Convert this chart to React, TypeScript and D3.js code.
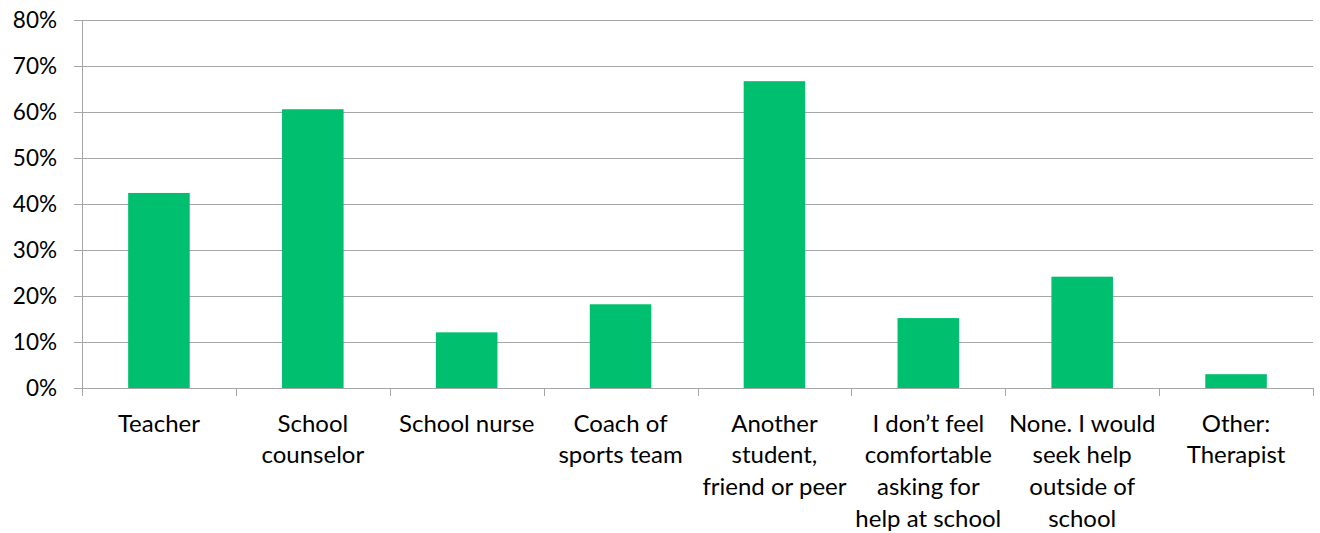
import React from "react";
import * as d3 from "d3";

const categories: string[][] = [
  ["Teacher"],
  ["School", "counselor"],
  ["School nurse"],
  ["Coach of", "sports team"],
  ["Another", "student,", "friend or peer"],
  ["I don’t feel", "comfortable", "asking for", "help at school"],
  ["None. I would", "seek help", "outside of", "school"],
  ["Other:", "Therapist"],
];
const values: number[] = [0.424, 0.606, 0.121, 0.182, 0.667, 0.152, 0.242, 0.03];
const yTicks: number[] = [0, 0.1, 0.2, 0.3, 0.4, 0.5, 0.6, 0.7, 0.8];

export default function App() {
  const W = 1320, H = 533;
  const left = 82, right = 1313, top = 20, bottom = 388;
  const x = d3.scaleBand<number>().domain(d3.range(categories.length)).range([left, right]).paddingInner(0.6).paddingOuter(0.3);
  const y = d3.scaleLinear().domain([0, 0.8]).range([bottom, top]);
  const fmt = d3.format(".0%");
  const font = "Lato, 'Liberation Sans', sans-serif";
  const step = (right - left) / categories.length;
  return (
    <svg width={W} height={H} style={{ position: "absolute", left: 0, top: 0, background: "#fff" }} fontFamily={font}>
      {yTicks.map((t) => (
        <g key={t}>
          <line x1={left - 8} x2={right} y1={Math.round(y(t)) + 0.5} y2={Math.round(y(t)) + 0.5} stroke="#a6a6a6" strokeWidth={1} />
          <text x={57} y={y(t)} dy="0.36em" textAnchor="end" fontSize={22.5} fill="#000">{fmt(t)}</text>
        </g>
      ))}
      <line x1={left + 0.5} x2={left + 0.5} y1={top} y2={bottom + 8} stroke="#a6a6a6" />
      {d3.range(categories.length + 1).map((i) => (
        <line key={i} x1={Math.round(left + i * step) + 0.5} x2={Math.round(left + i * step) + 0.5} y1={bottom} y2={bottom + 8} stroke="#a6a6a6" />
      ))}
      {values.map((v, i) => (
        <rect key={i} x={x(i)} y={y(v)} width={x.bandwidth()} height={bottom - y(v)} fill="#00bf6f" />
      ))}
      {categories.map((lines, i) => (
        <text key={i} textAnchor="middle" fontSize={24} fill="#000">
          {lines.map((l, j) => (
            <tspan key={j} x={(x(i) as number) + x.bandwidth() / 2} y={431.5 + j * 31.7}>{l}</tspan>
          ))}
        </text>
      ))}
    </svg>
  );
}
